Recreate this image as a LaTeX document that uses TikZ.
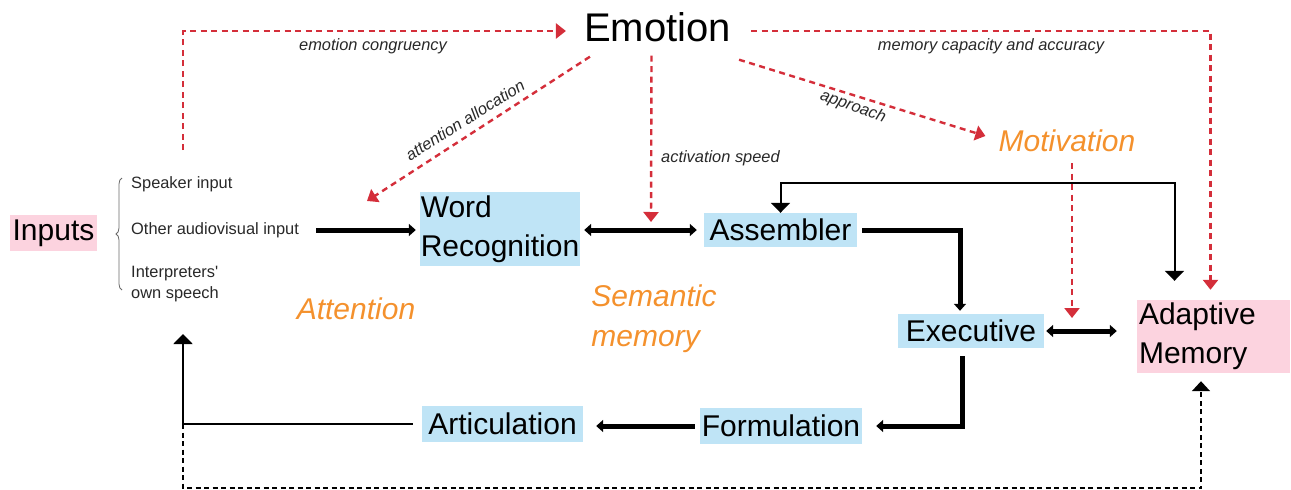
\documentclass[tikz,border=0pt]{standalone}
\usepackage{fontspec}
\setmainfont{Liberation Sans}
\usepackage{tikz}
\usetikzlibrary{arrows.meta, decorations.pathreplacing}
\definecolor{procblue}{RGB}{191,228,246}
\definecolor{mempink}{RGB}{252,211,223}
\definecolor{emored}{RGB}{212,46,58}
\definecolor{emoorange}{RGB}{244,145,45}
\definecolor{labgrey}{RGB}{40,40,40}
\tikzset{>=latex}
\tikzset{
  procbox/.style = {fill = procblue, inner sep = 0pt, font = \fontsize{30}{39}\selectfont},
  membox/.style = {fill = mempink, inner sep = 0pt, font = \fontsize{30}{39}\selectfont},
  faculty/.style = {text = emoorange, inner sep = 0pt, align = left, font = \fontsize{30}{40}\selectfont\itshape},
  srclabel/.style = {text = labgrey, inner sep = 0pt, anchor = west, align = left, font = \fontsize{16.4}{21}\selectfont},
  linklabel/.style = {text = labgrey, inner sep = 0pt, font = \fontsize{16.4}{20}\selectfont\itshape},
  mainflow/.style = {line width = 5pt, -{Triangle[length = 7pt, width = 12pt]}},
  mainboth/.style = {line width = 5pt, {Triangle[length = 7pt, width = 12pt]}-{Triangle[length = 7pt, width = 12pt]}},
  backflow/.style = {line width = 2pt, -{Triangle[length = 10pt, width = 19pt]}},
  loopflow/.style = {line width = 2pt, {Triangle[length = 10pt, width = 19pt]}-{Triangle[length = 10pt, width = 19pt]}},
  emolink/.style = {emored, line width = 2.4pt, dash pattern = on 6pt off 4.5pt, -{Triangle[length = 10pt, width = 15pt]}},
  memlink/.style = {line width = 1.8pt, dash pattern = on 5pt off 3.5pt, -{Triangle[length = 10pt, width = 18pt]}}
}

\begin{document}
\begin{tikzpicture}[x = 1pt, y = -1pt]
\useasboundingbox (0,0) rectangle (1291,490);
% boxes
\node[membox, minimum width = 87pt, minimum height = 36pt] (inputs) at (53.5,233) {Inputs};
\node[procbox, minimum width = 160pt, minimum height = 74pt, align = left] (wr) at (500,229) {Word\\Recognition};
\node[procbox, minimum width = 153pt, minimum height = 34pt] (asm) at (780.5,230) {Assembler};
\node[procbox, minimum width = 146pt, minimum height = 34pt] (exec) at (971,331) {Executive};
\node[membox, inner xsep = 2pt, text width = 149pt, minimum height = 73pt, align = left] (am) at (1213.5,336.5) {Adaptive\\Memory};
\node[procbox, minimum width = 162pt, minimum height = 36pt] (form) at (781,426) {Formulation};
\node[procbox, minimum width = 161pt, minimum height = 36pt] (art) at (502.5,424) {Articulation};
\node[inner sep = 0pt, text height = 29pt, text depth = 8pt, font = \fontsize{40}{40}\selectfont] (emotion) at (657.5,31) {Emotion};
% sources
\node[srclabel] (speaker) at (131,184) {Speaker input};
\node[srclabel] (audiovis) at (131,230) {Other audiovisual input};
\node[srclabel] (ownspeech) at (131,284) {Interpreters\textquotesingle\\own speech};
\draw[labgrey!70, line width = 0.8pt, decorate, decoration = {brace, amplitude = 6pt}] (122,290) -- (122,178);
% faculties
\node[faculty] (attention) at (356,309) {Attention};
\node[faculty] (semantic) at (654,319) {Semantic\\memory};
\node[faculty] (motivation) at (1067,141) {Motivation};
% free ends
\coordinate (attnend) at (367,201);
\coordinate (actend) at (651,222);
\coordinate (congstart) at (183,150);
\coordinate (motend) at (1072,318);
\coordinate (backend) at (183,334);
\coordinate (lowcorner) at (183,488);
% emotion links
\draw[emolink] (congstart) |- ([xshift = -18pt]emotion.west);
\draw[emolink] ([shift = {(6pt,-7pt)}]emotion.south west) -- (attnend);
\draw[emolink] ([shift = {(-6pt,-6pt)}]emotion.south) -- (actend);
\draw[emolink] ([shift = {(8pt,-10pt)}]emotion.south east) -- ([shift = {(-13pt,5pt)}]motivation.west);
\draw[emolink] ([xshift = 20pt]emotion.east) -| ([shift = {(-3pt,10pt)}]am.north);
\draw[emolink] ([shift = {(5pt,-11pt)}]motivation.south) -- (motend);
\node[linklabel] (congruency) at (373,46) {emotion congruency};
\node[linklabel, rotate = 32] (allocation) at (465,120) {attention allocation};
\node[linklabel, anchor = west] (speed) at (661,158) {activation speed};
\node[linklabel, rotate = -20] (approach) at (853,107) {approach};
\node[linklabel] (capacity) at (991,46) {memory capacity and accuracy};
% processing flow
\draw[mainflow, shorten > = 4pt] ([xshift = 17pt]audiovis.east) -- (audiovis.east -| wr.west);
\draw[mainboth, shorten < = 4pt, shorten > = 7pt] (wr.east |- asm.west) -- (asm.west);
\draw[mainflow] ([xshift = 5pt]asm.east) -| ([shift = {(-11pt,3pt)}]exec.north);
\draw[mainboth, shorten < = 2pt, shorten > = 20pt] (exec.east) -- (exec.east -| am.west);
\draw[mainflow] ([shift = {(-9pt,-8pt)}]exec.south) |- ([xshift = 14pt]form.east);
\draw[mainflow, shorten < = 5pt, shorten > = 13pt] (form.west) -- (form.west -| art.east);
\draw[backflow] ([xshift = -9pt]art.west) -| (backend);
\draw[loopflow] ([shift = {(-39pt,19pt)}]am.north) |- ([yshift = 30pt]asm.north) -- (asm.north);
\draw[memlink] (backend |- art.west) -- (lowcorner) -| ([shift = {(-12.5pt,-8pt)}]am.south);
\end{tikzpicture}
\end{document}
